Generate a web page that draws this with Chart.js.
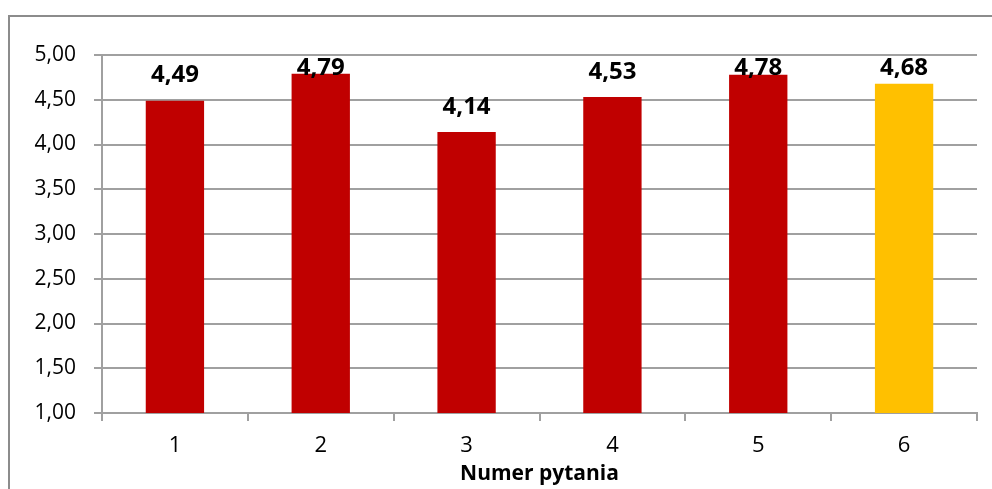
<html>

<head>
    <title>Numer pytania</title>
    <script src="https://cdn.jsdelivr.net/npm/chart.js"></script>
    <style>
        body {
            margin: 0;
            background: #fff;
        }
    </style>
</head>

<body>
    <canvas id="chart" width="992" height="489"></canvas>
</body>
<script>
    const questions = ['1', '2', '3', '4', '5', '6']
    const scores = [4.49, 4.79, 4.14, 4.53, 4.78, 4.68]
    const yTicks = [1.0, 1.5, 2.0, 2.5, 3.0, 3.5, 4.0, 4.5, 5.0]
    const axisTitle = 'Numer pytania'

    const barColors = ['#C00000', '#C00000', '#C00000', '#C00000', '#C00000', '#FFC000']
    const font = '"Open Sans", Lato, sans-serif'

    const fmt = v => v.toFixed(2).replace('.', ',')

    // outer frame of the chart object (runs past the right/bottom edges)
    const framePlugin = {
        id: 'frame',
        beforeDraw(chart) {
            const ctx = chart.ctx
            ctx.save()
            ctx.strokeStyle = '#8c8c8c'
            ctx.lineWidth = 2
            ctx.strokeRect(9, 16, 1000, 500)
            ctx.restore()
        }
    }

    // value labels above the bars, kept inside the plot area
    const labelPlugin = {
        id: 'valueLabels',
        afterDatasetsDraw(chart) {
            const ctx = chart.ctx
            const meta = chart.getDatasetMeta(0)
            const top = chart.chartArea.top
            ctx.save()
            ctx.font = 'bold 24px ' + font
            ctx.fillStyle = '#000'
            ctx.textAlign = 'center'
            ctx.textBaseline = 'middle'
            meta.data.forEach((bar, i) => {
                const y = Math.max(bar.y - 25, top + 13)
                ctx.fillText(fmt(scores[i]), bar.x, y)
            })
            ctx.restore()
        }
    }

    new Chart(document.getElementById('chart'), {
        type: 'bar',
        data: {
            labels: questions,
            datasets: [{
                data: scores,
                backgroundColor: barColors,
                categoryPercentage: 1,
                barPercentage: 0.4
            }]
        },
        options: {
            responsive: false,
            animation: false,
            layout: { padding: { top: 55, right: 15, left: 0, bottom: 0 } },
            plugins: {
                legend: { display: false },
                tooltip: { enabled: false }
            },
            scales: {
                x: {
                    grid: {
                        drawOnChartArea: false,
                        drawTicks: true,
                        tickLength: 8,
                        color: '#a0a0a0',
                        lineWidth: 2
                    },
                    border: { color: '#a0a0a0', width: 2 },
                    ticks: {
                        color: '#000',
                        padding: 12,
                        font: { family: font, size: 22 }
                    },
                    title: {
                        display: true,
                        text: axisTitle,
                        color: '#000',
                        padding: { top: 0, bottom: 2 },
                        font: { family: font, size: 21, weight: 'bold' }
                    },
                    afterFit(scale) { scale.height = 76 }
                },
                y: {
                    min: 1,
                    max: 5,
                    afterBuildTicks(scale) {
                        scale.ticks = yTicks.map(v => ({ value: v }))
                    },
                    grid: {
                        color: '#a0a0a0',
                        lineWidth: 2,
                        tickLength: 8
                    },
                    border: { color: '#a0a0a0', width: 2 },
                    ticks: {
                        color: '#000',
                        padding: 18,
                        font: { family: font, size: 21 },
                        callback: v => fmt(v)
                    },
                    afterFit(scale) { scale.width = 102 }
                }
            }
        },
        plugins: [framePlugin, labelPlugin]
    })
</script>
</html>
